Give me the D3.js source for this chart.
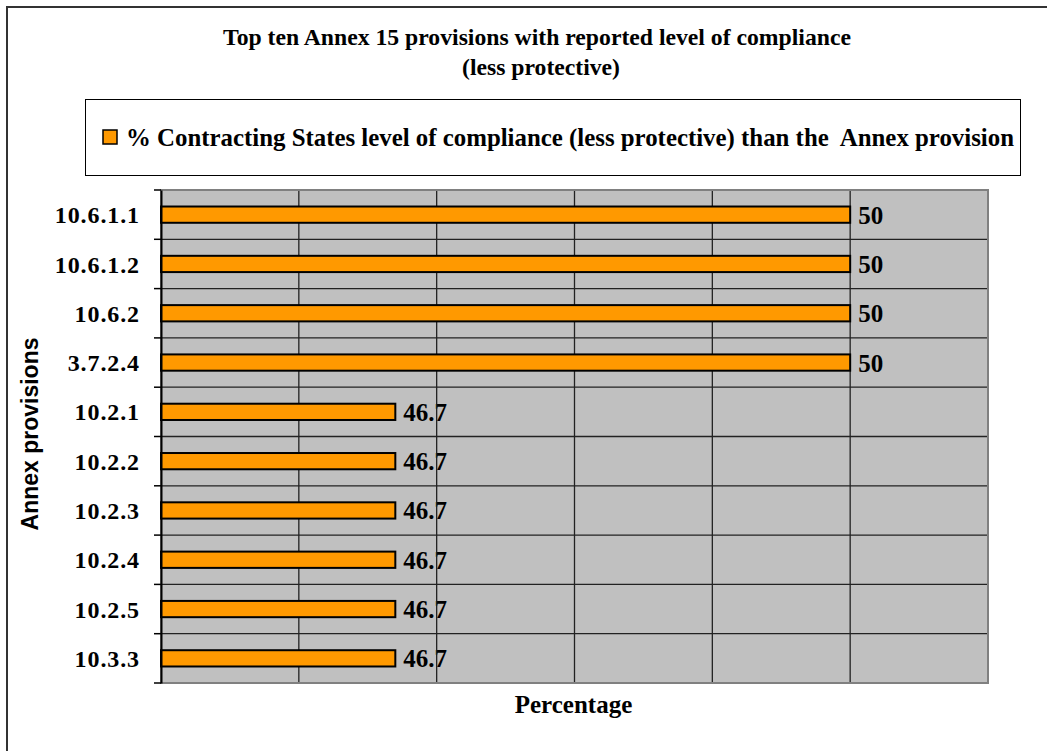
<!DOCTYPE html>
<html>
<head>
<meta charset="utf-8">
<script src="https://cdn.jsdelivr.net/npm/d3@7"></script>
<style>
  html, body { margin: 0; padding: 0; background: #fff; }
  svg { display: block; }
</style>
</head>
<body>
<svg id="chart" width="1047" height="751"></svg>
<script>
// Annex 15 provisions, top to bottom
const provisions = ["10.6.1.1", "10.6.1.2", "10.6.2", "3.7.2.4", "10.2.1", "10.2.2", "10.2.3", "10.2.4", "10.2.5", "10.3.3"];
// % of Contracting States reporting a less protective level of compliance
const lessProtective = [50, 50, 50, 50, 46.7, 46.7, 46.7, 46.7, 46.7, 46.7];
// value axis range and step (no tick labels are printed)
const axisDomain = [45, 51];
const axisStep = 1;

const titleLines = ["Top ten Annex 15 provisions with reported level of compliance", "(less protective)"];
const titleWidths = [628, 158];
const seriesName = "% Contracting States level of compliance (less protective) than the  Annex provision";
const xTitle = "Percentage";
const yTitle = "Annex provisions";

const serif = "'Liberation Serif', 'Times New Roman', serif";
const sans = "'Liberation Sans', Arial, sans-serif";
const barColor = "#FF9900";
const plotBg = "#C0C0C0";

const svg = d3.select("#chart");

// outer chart frame
svg.append("rect")
  .attr("x", 7).attr("y", 7)
  .attr("width", 1060).attr("height", 770)
  .attr("fill", "#fff").attr("stroke", "#333").attr("stroke-width", 2);

// title
svg.append("g").selectAll("text").data(titleLines).join("text")
  .attr("x", (d, i) => i === 0 ? 537 : 541).attr("y", (d, i) => 45 + i * 30)
  .attr("text-anchor", "middle")
  .attr("font-family", serif).attr("font-weight", "bold").attr("font-size", 23)
  .attr("textLength", (d, i) => titleWidths[i]).attr("lengthAdjust", "spacingAndGlyphs")
  .text(d => d);

// legend
const legend = svg.append("g");
legend.append("rect")
  .attr("x", 85.5).attr("y", 99.5).attr("width", 935).attr("height", 76)
  .attr("fill", "#fff").attr("stroke", "#000").attr("stroke-width", 1);
legend.append("rect")
  .attr("x", 103).attr("y", 130).attr("width", 14).attr("height", 14)
  .attr("fill", barColor).attr("stroke", "#000").attr("stroke-width", 1.5);
legend.append("text")
  .attr("x", 126).attr("y", 146)
  .attr("font-family", serif).attr("font-weight", "bold").attr("font-size", 25)
  .attr("textLength", 888).attr("lengthAdjust", "spacingAndGlyphs")
  .style("white-space", "pre")
  .text(seriesName);

// plot area
const plot = { left: 161, top: 190, right: 988, bottom: 683 };

const x = d3.scaleLinear().domain(axisDomain).range([plot.left, plot.right]);
const y = d3.scaleBand().domain(provisions).range([plot.top, plot.bottom]).padding(0);
const barH = y.bandwidth() * 0.33;

svg.append("rect")
  .attr("x", plot.left).attr("y", plot.top)
  .attr("width", plot.right - plot.left).attr("height", plot.bottom - plot.top)
  .attr("fill", plotBg);

// value labels (sit under the gridlines)
svg.append("g").selectAll("text").data(provisions).join("text")
  .attr("x", (d, i) => x(lessProtective[i]) + 8)
  .attr("y", d => y(d) + y.bandwidth() / 2 + 9)
  .attr("font-family", serif).attr("font-weight", "bold").attr("font-size", 25)
  .text((d, i) => lessProtective[i]);

// vertical gridlines
const xTicks = d3.range(axisDomain[0], axisDomain[1] + axisStep / 2, axisStep);
svg.append("g").selectAll("line").data(xTicks.slice(1, -1)).join("line")
  .attr("x1", d => x(d)).attr("x2", d => x(d))
  .attr("y1", plot.top).attr("y2", plot.bottom)
  .attr("stroke", "#222").attr("stroke-width", 1.3);

// horizontal gridlines at category boundaries
const bounds = provisions.slice(1).map(d => y(d));
svg.append("g").selectAll("line").data(bounds).join("line")
  .attr("x1", plot.left).attr("x2", plot.right)
  .attr("y1", d => d).attr("y2", d => d)
  .attr("stroke", "#222").attr("stroke-width", 1.3);

// plot border
svg.append("rect")
  .attr("x", plot.left).attr("y", plot.top)
  .attr("width", plot.right - plot.left).attr("height", plot.bottom - plot.top)
  .attr("fill", "none").attr("stroke", "#808080").attr("stroke-width", 2);

// bars
svg.append("g").selectAll("rect").data(provisions).join("rect")
  .attr("x", x(axisDomain[0]))
  .attr("y", d => y(d) + (y.bandwidth() - barH) / 2)
  .attr("width", (d, i) => x(lessProtective[i]) - x(axisDomain[0]))
  .attr("height", barH)
  .attr("fill", barColor).attr("stroke", "#000").attr("stroke-width", 2);

// category axis
const yAxis = svg.append("g")
  .attr("transform", `translate(${plot.left},0)`)
  .call(d3.axisLeft(y).tickSize(0).tickPadding(21));
yAxis.select(".domain").attr("stroke", "#000").attr("stroke-width", 2);
yAxis.selectAll("text")
  .attr("font-family", serif).attr("font-weight", "bold").attr("font-size", 24)
  .attr("letter-spacing", 0.9)
  .attr("dy", "0.36em").attr("fill", "#000");
// tick marks between categories
yAxis.append("g").selectAll("line")
  .data([plot.top, ...bounds, plot.bottom]).join("line")
  .attr("x1", -7).attr("x2", 0)
  .attr("y1", d => d).attr("y2", d => d)
  .attr("stroke", "#000").attr("stroke-width", 1.5);

// axis titles
svg.append("text")
  .attr("x", (plot.left + plot.right) / 2 - 1).attr("y", 713)
  .attr("text-anchor", "middle")
  .attr("font-family", serif).attr("font-weight", "bold").attr("font-size", 25)
  .text(xTitle);

svg.append("text")
  .attr("transform", "translate(38,434) rotate(-90)")
  .attr("text-anchor", "middle")
  .attr("font-family", sans).attr("font-weight", "bold").attr("font-size", 23)
  .text(yTitle);
</script>
</body>
</html>
